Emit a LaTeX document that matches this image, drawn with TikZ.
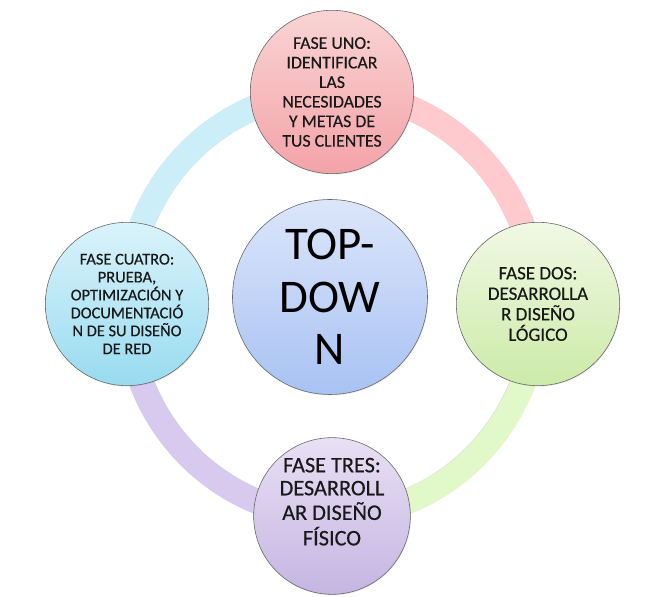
\documentclass[tikz,border=0pt]{standalone}
\usepackage{fontspec}
\setmainfont{Carlito}
\newfontfamily\phasefont{Carlito}[FakeBold=0.4]
\usetikzlibrary{positioning, shadows, backgrounds}
\definecolor{unoTop}{HTML}{F9D4D4}
\definecolor{unoBot}{HTML}{F3A3A8}
\definecolor{dosTop}{HTML}{F0F9E4}
\definecolor{dosBot}{HTML}{CCEAA8}
\definecolor{tresTop}{HTML}{E8E0F4}
\definecolor{tresBot}{HTML}{C5B5E2}
\definecolor{cuatroTop}{HTML}{DAF3FA}
\definecolor{cuatroBot}{HTML}{98DBF0}
\definecolor{coreTop}{HTML}{DCE6FA}
\definecolor{coreBot}{HTML}{A8C2F3}
\definecolor{ringPink}{HTML}{FFCACE}
\definecolor{ringGreen}{HTML}{E1F8C9}
\definecolor{ringLilac}{HTML}{D8CAEE}
\definecolor{ringSky}{HTML}{CBEEF9}
\definecolor{edgeGray}{HTML}{666666}
\tikzset{
  phase/.style 2 args={circle, draw=edgeGray, line width=0.5pt, top color=#1, bottom color=#2,
               minimum size=4.9cm, inner sep=0pt, align=center, text=black!90,
               font=\phasefont\fontsize{15.2}{16.7}\selectfont,
               drop shadow={opacity=0.18, shadow xshift=0.6pt, shadow yshift=-0.8pt}},
  core/.style={circle, draw=edgeGray, line width=0.5pt, top color=coreTop, bottom color=coreBot,
               minimum size=5.85cm, inner sep=0pt, align=center,
               font=\fontsize{40}{45}\selectfont,
               drop shadow={opacity=0.18, shadow xshift=0.6pt, shadow yshift=-0.8pt}},
  ringarc/.style={line width=0.75cm, draw=#1},
  ringshade/.style={line width=0.75cm, draw=black, opacity=0.12},
}
\newcommand{\ringrx}{6.15cm}
\newcommand{\ringry}{6.36cm}

\begin{document}
\begin{tikzpicture}[x=0.03cm, y=0.03cm]
\useasboundingbox (0,0) rectangle (659,597);
% the four phases round the cycle
\node[phase={unoTop}{unoBot}] (uno) at (332,505)
  {FASE UNO:\\IDENTIFICAR\\LAS\\NECESIDADES\\Y METAS DE\\TUS CLIENTES};
\node[phase={dosTop}{dosBot}, font=\phasefont\fontsize{16.2}{17.5}\selectfont] (dos) at (538,293)
  {FASE DOS:\\DESARROLLA\\R DISEÑO\\LÓGICO};
\node[phase={tresTop}{tresBot}, minimum size=4.7cm, font=\phasefont\fontsize{19}{19.6}\selectfont] (tres) at (332,81)
  {\raisebox{0.2cm}[0pt][0pt]{\begin{tabular}{@{}c@{}}FASE TRES:\\DESARROLL\\AR DISEÑO\\FÍSICO\end{tabular}}};
\node[phase={cuatroTop}{cuatroBot}, font=\phasefont\fontsize{14}{15.3}\selectfont] (cuatro) at (127,293)
  {FASE CUATRO:\\PRUEBA,\\OPTIMIZACIÓN Y\\DOCUMENTACIÓ\\N DE SU DISEÑO\\DE RED};
% centre
\node[core] (topdown) at (330,300) {TOP-\\DOW\\N};
% ring behind the phases
\begin{scope}[on background layer]
\begin{scope}[shift={(0.6pt,-0.9pt)}]
\draw[ringshade] (uno.center) arc[start angle=90, end angle=-270, x radius=\ringrx, y radius=\ringry];
\end{scope}
\draw[ringarc=ringPink] (uno.center) arc[start angle=90, end angle=0, x radius=\ringrx, y radius=\ringry];
\draw[ringarc=ringGreen] (dos.center) arc[start angle=0, end angle=-90, x radius=\ringrx, y radius=\ringry];
\draw[ringarc=ringLilac] (tres.center) arc[start angle=-90, end angle=-180, x radius=\ringrx, y radius=\ringry];
\draw[ringarc=ringSky] (cuatro.center) arc[start angle=180, end angle=90, x radius=\ringrx, y radius=\ringry];
\end{scope}
\end{tikzpicture}
\end{document}
